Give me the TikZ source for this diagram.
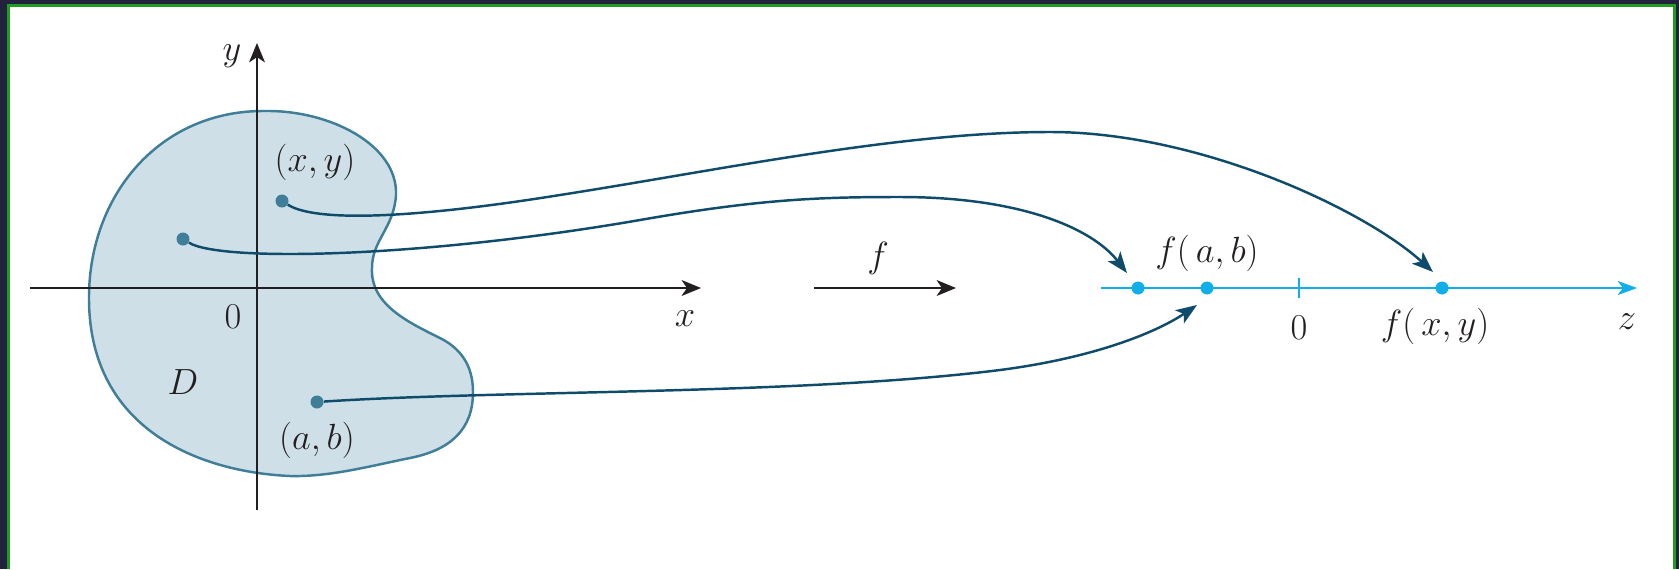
\documentclass[tikz,border=0pt]{standalone}
\usepackage{fontspec}
\usetikzlibrary{arrows.meta}
\definecolor{region}{HTML}{CFDFE7}
\definecolor{rim}{HTML}{3F7E99}
\definecolor{link}{HTML}{0F4C6B}
\definecolor{zline}{HTML}{12AEEA}
\definecolor{axisc}{HTML}{231F20}
\definecolor{framedark}{HTML}{22223F}
\definecolor{framegreen}{HTML}{1E9E1E}

\begin{document}
\begin{tikzpicture}[x=0.02cm,y=-0.02cm,
  lbl/.style={font=\fontsize{20}{24}\selectfont,text=axisc,inner sep=0pt},
  ax/.style={axisc,line width=1.1pt,-{Stealth[length=11pt,width=9pt,inset=3pt]}},
  dom/.style={circle,fill=rim,inner sep=0pt,minimum size=0.26cm},
  img/.style={circle,fill=zline,inner sep=0pt,minimum size=0.26cm},
  conn/.style={link,line width=1.4pt,-{Stealth[length=12pt,width=9pt,inset=3pt]}}]
  \useasboundingbox (0,0) rectangle (1679,569);
  % Frame
  \fill[framedark] (0,0) rectangle (1679,569);
  \fill[framegreen] (7,4) rectangle (1676,569);
  \fill[white] (10,7) rectangle (1673,569);

  % Domain D
  \draw[rim,fill=region,line width=1.4pt] (265,111)
    .. controls (330,110) and (398,145) .. (396,195)
    .. controls (394,228) and (372,240) .. (372,268)
    .. controls (370,305) and (410,323) .. (440,338)
    .. controls (466,351) and (473,372) .. (473,392)
    .. controls (473,430) and (450,450) .. (410,458)
    .. controls (370,466) and (330,477) .. (290,476)
    .. controls (200,472) and (90,430) .. (89,300)
    .. controls (88,195) and (160,110) .. cycle;

  % xy-plane
  \coordinate (xl) at (30,288);
  \coordinate (xr) at (701,288);
  \coordinate (yb) at (257,510);
  \coordinate (yt) at (257,43);
  \draw[ax] (xl) -- (xr);
  \draw[ax] (yb) -- (yt);
  \node[lbl] (ylab) at (232,56) {$y$};
  \node[lbl] (xlab) at (685,319) {$x$};
  \node[lbl] (orig) at (233,317) {$0$};
  \node[lbl] (dlab) at (183,382) {$D$};

  % points in D
  \node[dom] (pxy) at (282,201) {};
  \node[dom] (pmid) at (183,239) {};
  \node[dom] (pab) at (317,402) {};
  \node[lbl] (xylab) at (315,162) {$(x,y)$};
  \node[lbl] (ablab) at (317,440) {$(a,b)$};

  % f arrow
  \coordinate (fl) at (814,288);
  \coordinate (fr) at (956,288);
  \draw[ax] (fl) -- (fr);
  \node[lbl] (flab) at (878,258) {$f$};

  % z-line
  \coordinate (zl) at (1101,288);
  \coordinate (zr) at (1637,288);
  \draw[zline,line width=1.1pt,-{Stealth[length=11pt,width=8pt,inset=3pt]}] (zl) -- (zr);
  \coordinate (tk) at (1299,288);
  \draw[zline,line width=1.4pt] ([yshift=0.2cm]tk) -- ([yshift=-0.2cm]tk);
  \node[img] (zmid) at (1138,288) {};
  \node[img] (zab) at (1207,288) {};
  \node[img] (zxy) at (1442,288) {};
  \node[lbl] (zlab) at (1627,322) {$z$};
  \node[lbl] (zorig) at (1299,328) {$0$};
  \node[lbl] (fablab) at (1207,253) {$f(\,a,b)$};
  \node[lbl] (fxylab) at (1435,326) {$f(\,x,y)$};

  % mapping arrows
  \coordinate (txy) at (1433,272);
  \coordinate (tmid) at (1127,273);
  \coordinate (tab) at (1197,305);
  \draw[conn] (pxy) .. controls (315,222) and (410,219) .. (560,195)
    .. controls (720,170) and (900,132) .. (1050,132)
    .. controls (1200,132) and (1365,210) .. (txy);
  \draw[conn] (pmid) .. controls (220,262) and (420,258) .. (640,220)
    .. controls (760,199) and (820,197) .. (900,197)
    .. controls (1020,197) and (1092,228) .. (tmid);
  \draw[conn] (pab) .. controls (500,390) and (800,395) .. (1000,370)
    .. controls (1100,357) and (1160,330) .. (tab);
\end{tikzpicture}
\end{document}
